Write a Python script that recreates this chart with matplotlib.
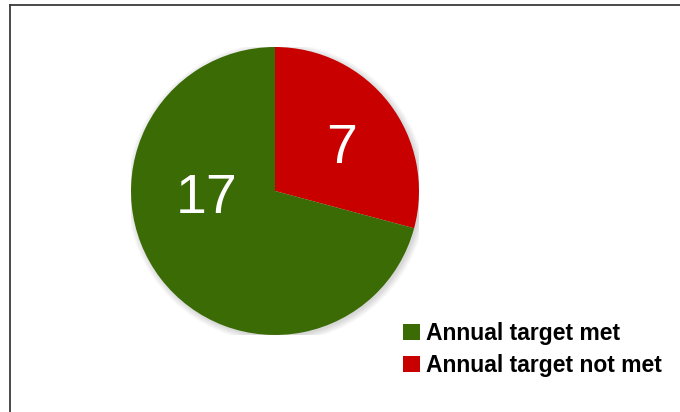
import matplotlib.pyplot as plt
import numpy as np
from matplotlib.lines import Line2D
from matplotlib.patches import Circle

plt.rcParams["font.family"] = ["Liberation Sans", "DejaVu Sans"]

labels = ["Annual target not met", "Annual target met"]
counts = [7, 17]
colors = ["#C80000", "#3B6B05"]

# label anchor points inside each wedge (fraction of radius, degrees)
label_spots = [(0.545, 32.5), (0.475, 186.5)]

W, H = 680, 412
fig = plt.figure(figsize=(W / 100, H / 100), dpi=100)

cx, cy, r = 275, 191, 144
ax = fig.add_axes([(cx - r) / W, (H - cy - r) / H, 2 * r / W, 2 * r / H])

# soft shadow under the pie
for i in range(8):
    ax.add_patch(Circle((0.012, -0.012), 1.0 + 0.006 * i, color="#000000",
                        alpha=0.018, lw=0, zorder=0))

wedges, texts, autotexts = ax.pie(
    counts, colors=colors, startangle=90, counterclock=False,
    autopct=lambda p: f"{round(p * sum(counts) / 100):d}",
    textprops=dict(color="white", fontsize=40),
    wedgeprops=dict(linewidth=0, zorder=1),
)

for t, (d, ang) in zip(autotexts, label_spots):
    t.set_position((d * np.cos(np.radians(ang)), d * np.sin(np.radians(ang))))

ax.set_xlim(-1.0, 1.0)
ax.set_ylim(-1.0, 1.0)
ax.set_aspect("equal")
ax.axis("off")

# legend: met first, then not met
fig.legend(
    [wedges[1], wedges[0]], [labels[1], labels[0]],
    loc="upper left", bbox_to_anchor=(403 / W, 1 - 322 / H),
    frameon=False, prop=dict(size=16.5, weight="bold"),
    handlelength=0.72, handleheight=0.72, handletextpad=0.3,
    labelspacing=0.4, borderpad=0, borderaxespad=0,
)

# outer frame (top and left edges visible)
fig.add_artist(Line2D([10 / W, 1], [1 - 5 / H, 1 - 5 / H], color="#3a3a3a", lw=1.3))
fig.add_artist(Line2D([10 / W, 10 / W], [0, 1 - 5 / H], color="#3a3a3a", lw=1.3))

fig.savefig("out.png", dpi=100)
